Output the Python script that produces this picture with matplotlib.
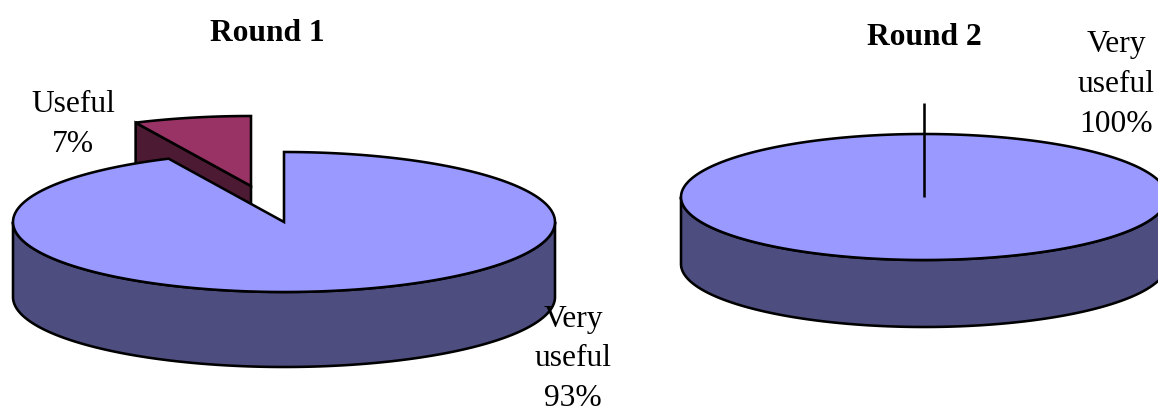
import numpy as np
import matplotlib
matplotlib.use("Agg")
import matplotlib.pyplot as plt
from matplotlib.patches import Polygon

# survey shares per round
round1_labels = ["Very\nuseful\n93%", "Useful\n7%"]
round1_values = [93, 7]
round2_labels = ["Very\nuseful\n100%"]
round2_values = [100]

BLUE_TOP = "#9999ff"
BLUE_SIDE = "#4d4d80"
RED_TOP = "#993366"
RED_SIDE = "#4d1a33"
LW = 1.85

plt.rcParams["font.family"] = ["Liberation Serif", "DejaVu Serif"]
FONT = 22.7
SPACING = 1.49


def rim(cx, cy, rx, ry, start, end, n=300):
    """Points on the ellipse, angles in degrees clockwise from the top."""
    t = np.radians(np.linspace(start, end, n))
    return np.column_stack([cx + rx * np.sin(t), cy - ry * np.cos(t)])


def draw_side(ax, cx, cy, rx, ry, depth, start, end, color):
    # only the front half of the rim is visible
    a, b = max(start, 90), min(end, 270)
    if a >= b:
        return
    arc = rim(cx, cy, rx, ry, a, b)
    low = arc + [0, depth]
    ax.add_patch(Polygon(np.vstack([arc, low[::-1]]), closed=True, fc=color,
                         ec="black", lw=LW, joinstyle="round"))


def draw_radial_wall(ax, cx, cy, rx, ry, depth, angle, color):
    p = rim(cx, cy, rx, ry, angle, angle, 1)[0]
    pts = [p, (cx, cy), (cx, cy + depth), p + [0, depth]]
    ax.add_patch(Polygon(pts, closed=True, fc=color, ec="black", lw=LW, joinstyle="miter"))


def draw_top(ax, cx, cy, rx, ry, start, end, color):
    arc = rim(cx, cy, rx, ry, start, end)
    if end - start >= 360:
        pts = arc
    else:
        pts = np.vstack([[cx, cy], arc])
    ax.add_patch(Polygon(pts, closed=True, fc=color, ec="black", lw=LW, joinstyle="miter"))


fig = plt.figure(figsize=(11.58, 4.12), dpi=100)
ax = fig.add_axes([0, 0, 1, 1])
ax.set_xlim(0, 1158)
ax.set_ylim(412, 0)
ax.axis("off")

# Round 1: the small slice sits behind and is pulled out of the pie
sweep_big = 360 * round1_values[0] / sum(round1_values)
cx, cy, rx, ry, depth = 284, 222, 271, 70, 75
ox, oy = cx - 33, cy - 36

draw_radial_wall(ax, ox, oy, rx, ry, depth, sweep_big, RED_SIDE)
draw_top(ax, ox, oy, rx, ry, sweep_big, 360, RED_TOP)

draw_side(ax, cx, cy, rx, ry, depth, 0, sweep_big, BLUE_SIDE)
draw_top(ax, cx, cy, rx, ry, 0, sweep_big, BLUE_TOP)

ax.text(267, 33, "Round 1", fontsize=FONT, fontweight="bold", ha="center", va="center")
ax.text(73, 124.5, round1_labels[1], fontsize=FONT, ha="center", va="center", linespacing=SPACING)
ax.text(573, 359, round1_labels[0], fontsize=FONT, ha="center", va="center", linespacing=SPACING)

# Round 2: one full slice
cx, cy, rx, ry, depth = 924, 197, 243, 63, 67
draw_side(ax, cx, cy, rx, ry, depth, 0, 360 * round2_values[0] / sum(round2_values), BLUE_SIDE)
draw_top(ax, cx, cy, rx, ry, 0, 360, BLUE_TOP)
ax.plot([cx, cx], [cy, 103], color="black", lw=LW, solid_capstyle="butt")

ax.text(924, 37, "Round 2", fontsize=FONT, fontweight="bold", ha="center", va="center")
ax.text(1116, 84.5, round2_labels[0], fontsize=FONT, ha="center", va="center", linespacing=SPACING)

fig.savefig("out.png", dpi=100, facecolor="white")
